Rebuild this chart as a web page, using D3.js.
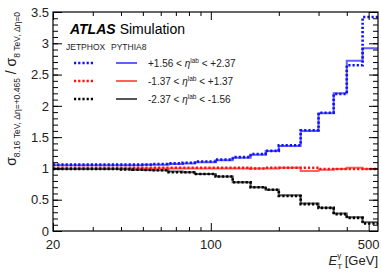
<!DOCTYPE html>
<html>
<head>
<meta charset="utf-8">
<script src="https://cdn.jsdelivr.net/npm/d3@7"></script>
<style>
body { margin: 0; background: #fff; }
text { font-family: "Liberation Sans", Arial, sans-serif; }
</style>
</head>
<body>
<script>
// bin edges in ET [GeV]
var edges = [20, 25, 30, 35, 40, 45, 50, 55, 65, 75, 85, 105, 125, 150, 175, 200, 250, 300, 350, 400, 470, 550];

// forward  +1.56 < eta < +2.37
var fwdJetphox = [1.06, 1.06, 1.06, 1.06, 1.06, 1.06, 1.06, 1.07, 1.08, 1.09, 1.11, 1.14, 1.18, 1.23, 1.28, 1.37, 1.61, 1.89, 2.19, 2.65, 3.42];
var fwdPythia  = [1.05, 1.05, 1.05, 1.05, 1.05, 1.05, 1.06, 1.06, 1.07, 1.08, 1.10, 1.13, 1.17, 1.22, 1.28, 1.36, 1.60, 1.88, 2.20, 2.72, 2.92];
// central  -1.37 < eta < +1.37
var cenJetphox = [1.01, 1.01, 1.01, 1.01, 1.01, 1.01, 1.01, 1.01, 1.01, 1.01, 1.01, 1.01, 1.01, 1.00, 1.01, 1.01, 1.01, 0.99, 0.99, 0.99, 0.99];
var cenPythia  = [1.00, 1.00, 1.00, 1.00, 1.00, 1.00, 1.00, 1.00, 1.00, 1.00, 1.00, 1.00, 1.00, 1.00, 1.00, 1.01, 0.96, 0.98, 0.99, 1.01, 0.99];
// backward -2.37 < eta < -1.56
var bwdJetphox = [0.99, 0.99, 0.99, 0.99, 0.985, 0.98, 0.975, 0.97, 0.94, 0.94, 0.91, 0.87, 0.78, 0.70, 0.66, 0.56, 0.43, 0.37, 0.27, 0.21, 0.12];
var bwdPythia  = [0.99, 0.99, 0.99, 0.99, 0.985, 0.98, 0.975, 0.97, 0.95, 0.94, 0.91, 0.87, 0.78, 0.70, 0.66, 0.57, 0.44, 0.37, 0.28, 0.22, 0.14];

var yTicks = [0, 0.5, 1, 1.5, 2, 2.5, 3, 3.5];
var xLabels = [20, 100, 500];
var legendRows = [
  {lo: "+1.56", hi: "+2.37", dot: "#1010ff", line: "#6060ff"},
  {lo: "-1.37", hi: "+1.37", dot: "#ff1010", line: "#ff6060"},
  {lo: "-2.37", hi: "-1.56", dot: "#000000", line: "#555555"}
];

var W = 381, H = 272;
var m = {left: 53, right: 3, top: 12, bottom: 41};
var pw = W - m.left - m.right, ph = H - m.top - m.bottom;

var svg = d3.select('body').append('svg').attr('width', W).attr('height', H);
var g = svg.append('g').attr('transform', 'translate(' + m.left + ',' + m.top + ')');

var x = d3.scaleLog().domain([20, 550]).range([0, pw]);
var y = d3.scaleLinear().domain([0, 3.5]).range([ph, 0]);

g.append('clipPath').attr('id', 'clip').append('rect').attr('width', pw).attr('height', ph);

function steps(vals) {
  var pts = vals.map(function (v, i) { return [edges[i], v]; });
  pts.push([edges[edges.length - 1], vals[vals.length - 1]]);
  return pts;
}
var line = d3.line()
  .x(function (d) { return x(d[0]); })
  .y(function (d) { return y(d[1]); })
  .curve(d3.curveStepAfter);

var series = [
  {v: fwdPythia, c: legendRows[0].line, dot: false},
  {v: cenPythia, c: legendRows[1].line, dot: false},
  {v: bwdPythia, c: legendRows[2].line, dot: false},
  {v: fwdJetphox, c: legendRows[0].dot, dot: true},
  {v: cenJetphox, c: legendRows[1].dot, dot: true},
  {v: bwdJetphox, c: legendRows[2].dot, dot: true}
];
g.append('g').attr('clip-path', 'url(#clip)')
  .selectAll('path').data(series).enter().append('path')
  .attr('d', function (d) { return line(steps(d.v)); })
  .attr('fill', 'none')
  .attr('stroke', function (d) { return d.c; })
  .attr('stroke-width', function (d) { return d.dot ? 2.6 : 2; })
  .attr('stroke-dasharray', function (d) { return d.dot ? '2.2,2' : null; });

// y ticks, inward on both sides
var yMinor = d3.range(0, 3.51, 0.1);
function yAxisTicks(gen, vals, len) {
  return gen(y).tickValues(vals).tickSize(-len).tickFormat('');
}
g.append('g').call(yAxisTicks(d3.axisLeft, yMinor, 5));
g.append('g').call(yAxisTicks(d3.axisLeft, yTicks, 9));
g.append('g').attr('transform', 'translate(' + pw + ',0)').call(yAxisTicks(d3.axisRight, yMinor, 5));
g.append('g').attr('transform', 'translate(' + pw + ',0)').call(yAxisTicks(d3.axisRight, yTicks, 9));

// x ticks (log), inward top and bottom
var xMinor = [30, 40, 50, 60, 70, 80, 90, 200, 300, 400];
var xMajor = [20, 100, 500];
g.append('g').attr('transform', 'translate(0,' + ph + ')')
  .call(d3.axisBottom(x).tickValues(xMinor).tickSize(-4).tickFormat(''));
g.append('g').attr('transform', 'translate(0,' + ph + ')')
  .call(d3.axisBottom(x).tickValues(xMajor).tickSize(-8).tickFormat(''));
g.append('g').call(d3.axisTop(x).tickValues(xMinor).tickSize(-4).tickFormat(''));
g.append('g').call(d3.axisTop(x).tickValues(xMajor).tickSize(-8).tickFormat(''));
g.selectAll('.domain').remove();
g.selectAll('.tick line').attr('stroke', '#000').attr('stroke-width', 1);

g.append('rect').attr('width', pw).attr('height', ph)
  .attr('fill', 'none').attr('stroke', '#000').attr('stroke-width', 1.2);

// tick labels
g.selectAll('.ylab').data(yTicks).enter().append('text')
  .attr('x', -4).attr('y', function (d) { return y(d); }).attr('dy', '0.36em')
  .attr('text-anchor', 'end').attr('font-size', 13).attr('fill', '#222')
  .text(function (d) { return d; });
g.selectAll('.xlab').data(xLabels).enter().append('text')
  .attr('x', function (d) { return x(d); }).attr('y', ph + 18)
  .attr('text-anchor', 'middle').attr('font-size', 13).attr('fill', '#222')
  .text(function (d) { return d; });

// x title
var xt = svg.append('text').attr('x', W - 3).attr('y', H - 7)
  .attr('text-anchor', 'end').attr('font-size', 13).attr('fill', '#222');
xt.append('tspan').attr('font-style', 'italic').text('E');
xt.append('tspan').attr('font-size', 8).attr('dy', 4).text('T');
xt.append('tspan').attr('font-size', 8).attr('dx', -5).attr('dy', -11).text('γ');
xt.append('tspan').attr('dy', 7).text(' [GeV]');

// y title
var yt = svg.append('text').attr('transform', 'translate(16,' + m.top + ') rotate(-90)')
  .attr('text-anchor', 'end').attr('font-size', 14).attr('fill', '#222');
yt.append('tspan').text('σ');
yt.append('tspan').attr('font-size', 8.5).attr('dy', 4).text('8.16 TeV, Δη=+0.465');
yt.append('tspan').attr('dy', -4).text(' / σ');
yt.append('tspan').attr('font-size', 8.5).attr('dy', 4).text('8 TeV, Δη=0');

// ATLAS label
var at = svg.append('text').attr('x', 70).attr('y', 34).attr('font-size', 14).attr('fill', '#000');
at.append('tspan').attr('font-weight', 'bold').attr('font-style', 'italic').text('ATLAS');
at.append('tspan').attr('dx', 4).text('Simulation');

svg.append('text').attr('x', 66).attr('y', 50).attr('font-size', 8.5).attr('fill', '#222').text('JETPHOX');
svg.append('text').attr('x', 111).attr('y', 50).attr('font-size', 8.5).attr('fill', '#222').text('PYTHIA8');

// legend
var leg = svg.selectAll('.leg').data(legendRows).enter().append('g')
  .attr('transform', function (d, i) { return 'translate(0,' + (63 + i * 18) + ')'; });
leg.append('line').attr('x1', 74).attr('x2', 95).attr('stroke', function (d) { return d.dot; })
  .attr('stroke-width', 2.6).attr('stroke-dasharray', '2.2,2');
leg.append('line').attr('x1', 116).attr('x2', 137).attr('stroke', function (d) { return d.line; })
  .attr('stroke-width', 2);
var lt = leg.append('text').attr('x', 148).attr('y', 4).attr('font-size', 10).attr('fill', '#222');
lt.append('tspan').text(function (d) { return d.lo + ' < '; });
lt.append('tspan').attr('font-style', 'italic').text('η');
lt.append('tspan').attr('font-size', 6.5).attr('dy', -4).text('lab');
lt.append('tspan').attr('dy', 4).text(function (d) { return ' < ' + d.hi; });
</script>
</body>
</html>
